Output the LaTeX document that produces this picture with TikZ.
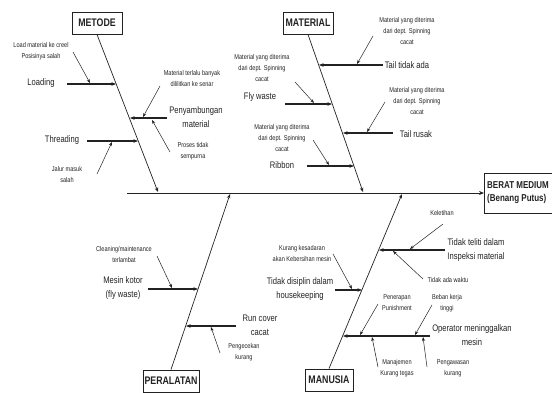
\documentclass[tikz,border=0pt]{standalone}
\usepackage{fontspec}
\setmainfont{Liberation Sans}[FakeStretch=0.8]
\usetikzlibrary{arrows.meta}
\definecolor{ink}{HTML}{222222}
\begin{document}
\begin{tikzpicture}[x=1pt,y=-1pt,
  catbox/.style={draw=ink, line width=0.9pt, text=ink, font=\fontsize{11}{12}\selectfont\bfseries, inner sep=0pt, minimum height=22pt},
  effbox/.style={draw=ink, line width=0.9pt, inner sep=0pt, minimum height=40pt, minimum width=82pt, anchor=west},
  efftext/.style={text=ink, font=\fontsize{10}{13}\selectfont\bfseries, align=left, inner sep=0pt, anchor=west},
  cause/.style={text=ink, font=\fontsize{9.5}{14}\selectfont, align=center, inner sep=0pt},
  sub/.style={text=ink, font=\fontsize{7}{11}\selectfont, align=center, inner sep=0pt},
  spineln/.style={draw=ink, line width=1pt, -{Stealth[length=5pt,width=4pt]}},
  bone/.style={draw=ink, line width=0.7pt, -{Stealth[length=4.5pt,width=3.5pt]}},
  causeln/.style={draw=ink, line width=1.2pt, -{Stealth[length=4.5pt,width=3.5pt]}},
  subln/.style={draw=ink, line width=0.5pt, -{Stealth[length=4pt,width=3pt]}}
]
\useasboundingbox (0,0) rectangle (552,392);
\clip (0,0) rectangle (552,392);

% effect and spine
\node[effbox] (eff) at (484,193) {};
\node[efftext] (efftxt) at (487,193) {BERAT MEDIUM\\(Benang Putus)};
\coordinate (s0) at (127,193);
\draw[spineln] (s0) -- (eff.west);

% category boxes
\node[catbox, minimum width=50pt] (metode) at (97,23) {METODE};
\node[catbox, minimum width=50pt] (material) at (308,23) {MATERIAL};
\node[catbox, minimum width=56pt] (peralatan) at (171,381) {PERALATAN};
\node[catbox, minimum width=48pt] (manusia) at (329,380) {MANUSIA};

\coordinate (jm) at (158,192);
\coordinate (jt) at (363,192);
\coordinate (jp) at (230,194);
\coordinate (jh) at (402,194);
\draw[bone] (metode.south) -- (jm);
\draw[bone] (material.south) -- (jt);
\draw[bone] (peralatan.north) -- (jp);
\draw[bone] (manusia.north) -- (jh);

% ===== METODE =====
\node[cause] (loading) at (41,83) {Loading};
\coordinate (loadA) at (67,84); \coordinate (loadB) at (116,84);
\draw[causeln] (loadA) -- (loadB);
\node[sub] (loadS) at (41,51) {Load material ke creel\\Posisinya salah};
\coordinate (loadS1) at (73,52); \coordinate (loadS2) at (90,83);
\draw[subln] (loadS1) -- (loadS2);

\node[cause] (sambung) at (196,117) {Penyambungan\\material};
\coordinate (sambA) at (167,118); \coordinate (sambB) at (130,118);
\draw[causeln] (sambA) -- (sambB);
\node[sub] (sambS1) at (192,78) {Material terlalu banyak\\dililitkan ke senar};
\coordinate (sa1) at (160,86); \coordinate (sa2) at (143,117);
\draw[subln] (sa1) -- (sa2);
\node[sub] (sambS2) at (193,151) {Proses tidak\\sempurna};
\coordinate (sb1) at (170,152); \coordinate (sb2) at (152,120);
\draw[subln] (sb1) -- (sb2);

\node[cause] (thread) at (62,140) {Threading};
\coordinate (thA) at (87,141); \coordinate (thB) at (138,141);
\draw[causeln] (thA) -- (thB);
\node[sub] (thS) at (67,174) {Jalur masuk\\salah};
\coordinate (th1) at (97,174); \coordinate (th2) at (112,142);
\draw[subln] (th1) -- (th2);

% ===== MATERIAL =====
\node[cause] (tail) at (407,65) {Tail tidak ada};
\coordinate (taA) at (383,65); \coordinate (taB) at (319,65);
\draw[causeln] (taA) -- (taB);
\node[sub] (taS) at (407,31) {Material yang diterima\\dari dept. Spinning\\cacat};
\coordinate (ta1) at (373,36); \coordinate (ta2) at (357,64);
\draw[subln] (ta1) -- (ta2);

\node[cause] (fly) at (260,97) {Fly waste};
\coordinate (flA) at (285,104); \coordinate (flB) at (332,104);
\draw[causeln] (flA) -- (flB);
\node[sub] (flS) at (262,68) {Material yang diterima\\dari dept. Spinning\\cacat};
\coordinate (fl1) at (295,82); \coordinate (fl2) at (314,103);
\draw[subln] (fl1) -- (fl2);

\node[cause] (rusak) at (416,134) {Tail rusak};
\coordinate (trA) at (393,133); \coordinate (trB) at (343,133);
\draw[causeln] (trA) -- (trB);
\node[sub] (trS) at (417,101) {Material yang diterima\\dari dept. Spinning\\cacat};
\coordinate (tr1) at (385,102); \coordinate (tr2) at (367,132);
\draw[subln] (tr1) -- (tr2);

\node[cause] (ribbon) at (282,165) {Ribbon};
\coordinate (riA) at (307,166); \coordinate (riB) at (354,166);
\draw[causeln] (riA) -- (riB);
\node[sub] (riS) at (282,138) {Material yang diterima\\dari dept. Spinning\\cacat};
\coordinate (ri1) at (313,140); \coordinate (ri2) at (329,165);
\draw[subln] (ri1) -- (ri2);

% ===== PERALATAN =====
\node[cause] (kotor) at (123,288) {Mesin kotor\\(fly waste)};
\coordinate (koA) at (148,289); \coordinate (koB) at (198,289);
\draw[causeln] (koA) -- (koB);
\node[sub] (koS) at (124,254) {Cleaning/maintenance\\terlambat};
\coordinate (ko1) at (157,256); \coordinate (ko2) at (172,288);
\draw[subln] (ko1) -- (ko2);

\node[cause] (runcov) at (260,325) {Run cover\\cacat};
\coordinate (rcA) at (236,326); \coordinate (rcB) at (186,326);
\draw[causeln] (rcA) -- (rcB);
\node[sub] (rcS) at (244,352) {Pengecekan\\kurang};
\coordinate (rc1) at (220,353); \coordinate (rc2) at (211,327);
\draw[subln] (rc1) -- (rc2);

% ===== MANUSIA =====
\node[cause] (teliti) at (476,250) {Tidak teliti dalam\\Inspeksi material};
\coordinate (teA) at (445,250); \coordinate (teB) at (379,250);
\draw[causeln] (teA) -- (teB);
\node[sub] (teS1) at (442,213) {Keletihan};
\coordinate (te1) at (443,224); \coordinate (te2) at (410,249);
\draw[subln] (te1) -- (te2);
\node[sub] (teS2) at (448,280) {Tidak ada waktu};
\coordinate (te3) at (423,279); \coordinate (te4) at (393,251);
\draw[subln] (te3) -- (te4);

\node[cause] (disiplin) at (300,289) {Tidak disiplin dalam\\housekeeping};
\coordinate (diA) at (335,290); \coordinate (diB) at (362,290);
\draw[causeln] (diA) -- (diB);
\node[sub] (diS) at (302,253) {Kurang kesadaran\\akan Kebersihan mesin};
\coordinate (di1) at (333,254); \coordinate (di2) at (352,289);
\draw[subln] (di1) -- (di2);

\node[cause] (operator) at (472,335) {Operator meninggalkan\\mesin};
\coordinate (opA) at (430,336); \coordinate (opB) at (343,336);
\draw[causeln] (opA) -- (opB);
\node[sub] (opS1) at (397,303) {Penerapan\\Punishment};
\coordinate (op1) at (378,304); \coordinate (op2) at (360,335);
\draw[subln] (op1) -- (op2);
\node[sub] (opS2) at (447,303) {Beban kerja\\tinggi};
\coordinate (op3) at (432,305); \coordinate (op4) at (415,335);
\draw[subln] (op3) -- (op4);
\node[sub] (opS3) at (397,368) {Manajemen\\Kurang tegas};
\coordinate (op5) at (378,367); \coordinate (op6) at (372,337);
\draw[subln] (op5) -- (op6);
\node[sub] (opS4) at (453,368) {Pengawasan\\kurang};
\coordinate (op7) at (427,367); \coordinate (op8) at (423,337);
\draw[subln] (op7) -- (op8);
\end{tikzpicture}
\end{document}
